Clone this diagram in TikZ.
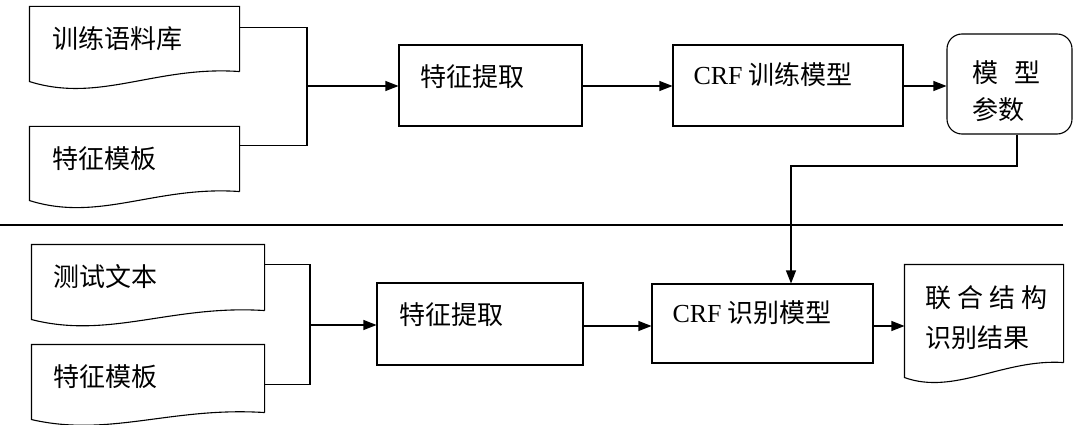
\documentclass[tikz,border=0pt]{standalone}
\usepackage{fontspec}
\setmainfont{Liberation Serif}
\newfontfamily\cjk{Noto Sans CJK SC}
\usetikzlibrary{arrows.meta,calc}
\begin{document}
\begin{tikzpicture}[x=1pt,y=-1pt,line width=1.1pt,
  box/.style={draw,rectangle,inner sep=0pt},
  docbox/.style={rectangle,inner sep=0pt},
  lbl/.style={anchor=west,inner sep=0pt,font=\cjk\fontsize{26}{31}\selectfont},
  arr/.style={-{Triangle[length=13pt,width=10pt]}}]
\useasboundingbox (0,0) rectangle (1074,425);

% ---- top row ----
\node[docbox,minimum width=209pt,minimum height=64pt] (d1) at (134.5,39) {};
\draw (d1.south east) -- (d1.north east) -- (d1.north west) -- ($(d1.south west)+(0,10)$)
  .. controls +(70,22) and +(-84,-6) .. (d1.south east);
\node[docbox,minimum width=209pt,minimum height=64pt] (d2) at (134.5,159) {};
\draw (d2.south east) -- (d2.north east) -- (d2.north west) -- ($(d2.south west)+(0,9)$)
  .. controls +(70,22) and +(-84,-6) .. (d2.south east);
\node[lbl] (t1) at (52,39) {训练语料库};
\node[lbl] (t2) at (52,159) {特征模板};

\node[box,minimum width=183pt,minimum height=81pt] (f1) at (490.5,85.5) {};
\node[lbl] (t3) at (420,77) {特征提取};
\node[box,minimum width=230pt,minimum height=81pt] (c1) at (788,85.5) {};
\node[lbl] (t4) at (693,75) {{\rmfamily CRF} 训练模型};
\node[box,rounded corners=15pt,minimum width=125pt,minimum height=100pt] (m1) at (1009.5,84) {};
\node[lbl] (t5) at (972,73) {模\hspace{16pt}型};
\node[lbl] (t6) at (972,110) {参数};

\coordinate (j1) at (307,86);
\draw ($(d1.north east)+(0,21)$) -| (j1);
\draw ($(d2.north east)+(0,19)$) -| (j1);
\draw[arr] (j1) -- (j1 -| f1.west);
\draw[arr] (f1.east |- j1) -- (c1.west |- j1);
\draw[arr] (c1.east |- j1) -- (m1.west |- j1);

% ---- separator ----
\coordinate (s0) at (0,225);
\coordinate (s1) at (1063,225);
\draw (s0) -- (s1);

% ---- bottom row ----
\node[docbox,minimum width=232pt,minimum height=65pt] (d3) at (148,277.5) {};
\draw (d3.south east) -- (d3.north east) -- (d3.north west) -- ($(d3.south west)+(0,9)$)
  .. controls +(78,20) and +(-93,-6) .. (d3.south east);
\node[docbox,minimum width=232pt,minimum height=67pt] (d4) at (148,378.5) {};
\draw (d4.south east) -- (d4.north east) -- (d4.north west) -- ($(d4.south west)+(0,7)$)
  .. controls +(78,18) and +(-93,-6) .. (d4.south east);
\node[lbl] (t7) at (53,277) {测试文本};
\node[lbl] (t8) at (53,377) {特征模板};

\node[box,minimum width=206pt,minimum height=82pt] (f2) at (480,324) {};
\node[lbl] (t9) at (399,315) {特征提取};
\node[box,minimum width=221pt,minimum height=79pt] (c2) at (762.5,323.5) {};
\node[lbl] (t10) at (672,313) {{\rmfamily CRF} 识别模型};
\node[docbox,minimum width=158pt,minimum height=97pt] (d5) at (984,313.5) {};
\draw (d5.south east) -- (d5.north east) -- (d5.north west) -- ($(d5.south west)+(0,15)$)
  .. controls +(50,18) and +(-60,-4) .. (d5.south east);
\node[lbl] (t11) at (925,298) {联 合 结 构};
\node[lbl] (t12) at (925,338) {识别结果};

\coordinate (j2) at (310,325);
\draw ($(d3.north east)+(0,20)$) -| (j2);
\draw ($(d4.north east)+(0,40)$) -| (j2);
\draw[arr] (j2) -- (j2 -| f2.west);
\draw[arr] (f2.east |- 0,326) -- (c2.west |- 0,326);
\draw[arr] (c2.east |- 0,326) -- (d5.west |- 0,326);

% ---- model parameters to recognition ----
\coordinate (k1) at (1017,166);
\coordinate (k2) at (791,166);
\draw[arr] (m1.south -| k1) -- (k1) -- (k2) -- (k2 |- c2.north);
\end{tikzpicture}
\end{document}
